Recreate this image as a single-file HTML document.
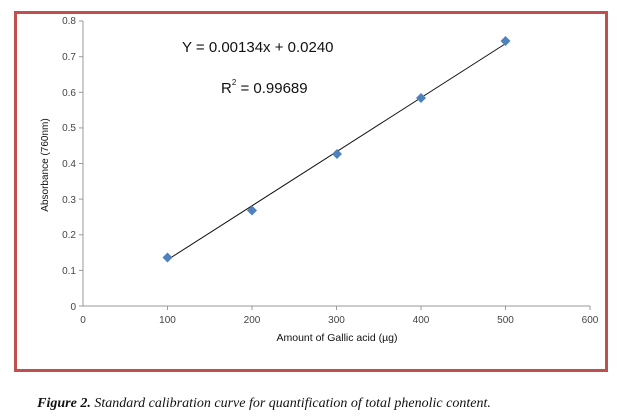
<!DOCTYPE html>
<html><head><meta charset="utf-8"><style>
body{margin:0;background:#fff;width:617px;height:420px;overflow:hidden}
svg{display:block}
</style></head><body>
<svg width="617" height="420" xmlns="http://www.w3.org/2000/svg">
<rect x="15.5" y="12.5" width="591" height="358" fill="#fff" stroke="#c0504d" stroke-width="3"/>
<g stroke="#999" stroke-width="1" fill="none">
<line x1="83" y1="21" x2="83" y2="306"/>
<line x1="83" y1="306" x2="590" y2="306"/>
</g>
<g stroke="#999" stroke-width="1">
<line x1="79" y1="306" x2="83" y2="306"/><line x1="79" y1="270.4" x2="83" y2="270.4"/><line x1="79" y1="234.8" x2="83" y2="234.8"/><line x1="79" y1="199.1" x2="83" y2="199.1"/><line x1="79" y1="163.5" x2="83" y2="163.5"/><line x1="79" y1="127.9" x2="83" y2="127.9"/><line x1="79" y1="92.3" x2="83" y2="92.3"/><line x1="79" y1="56.7" x2="83" y2="56.7"/><line x1="79" y1="21" x2="83" y2="21"/>
<line x1="167.5" y1="306" x2="167.5" y2="310"/><line x1="252" y1="306" x2="252" y2="310"/><line x1="336.5" y1="306" x2="336.5" y2="310"/><line x1="421" y1="306" x2="421" y2="310"/><line x1="505.5" y1="306" x2="505.5" y2="310"/><line x1="590" y1="306" x2="590" y2="310"/>
</g>
<g font-family="Liberation Sans, sans-serif" font-size="10" fill="#444" text-anchor="end">
<text x="76" y="310">0</text><text x="76" y="274">0.1</text><text x="76" y="238">0.2</text><text x="76" y="203">0.3</text><text x="76" y="167">0.4</text><text x="76" y="131">0.5</text><text x="76" y="96">0.6</text><text x="76" y="60">0.7</text><text x="76" y="24">0.8</text>
</g>
<g font-family="Liberation Sans, sans-serif" font-size="10" fill="#444" text-anchor="middle">
<text x="83" y="323">0</text><text x="167.5" y="323">100</text><text x="252" y="323">200</text><text x="336.5" y="323">300</text><text x="421" y="323">400</text><text x="505.5" y="323">500</text><text x="590" y="323">600</text>
</g>
<text x="337" y="341" font-family="Liberation Sans, sans-serif" font-size="10.5" fill="#111" text-anchor="middle">Amount of Gallic acid (µg)</text>
<text transform="translate(48,165) rotate(-90)" font-family="Liberation Sans, sans-serif" font-size="10" fill="#111" text-anchor="middle">Absorbance (760nm)</text>
<text x="182" y="52" font-family="Liberation Sans, sans-serif" font-size="15" fill="#111">Y = 0.00134x + 0.0240</text>
<text x="221" y="93" font-family="Liberation Sans, sans-serif" font-size="15" fill="#111">R<tspan font-size="8" dy="-8">2</tspan><tspan dy="8"> = 0.99689</tspan></text>
<line x1="168" y1="259.5" x2="505" y2="44" stroke="#111" stroke-width="1"/>
<g fill="#4f81bd">
<path d="M167.5 252.5l5 5-5 5-5-5z"/>
<path d="M252 205.5l5 5-5 5-5-5z"/>
<path d="M337 149l5 5-5 5-5-5z"/>
<path d="M421 93l5 5-5 5-5-5z"/>
<path d="M505.5 36l5 5-5 5-5-5z"/>
</g>
<text x="264" y="407" font-family="Liberation Serif, serif" font-size="14" font-style="italic" fill="#111" text-anchor="middle"><tspan font-weight="bold">Figure 2.</tspan> Standard calibration curve for quantification of total phenolic content.</text>
</svg>
</body></html>
